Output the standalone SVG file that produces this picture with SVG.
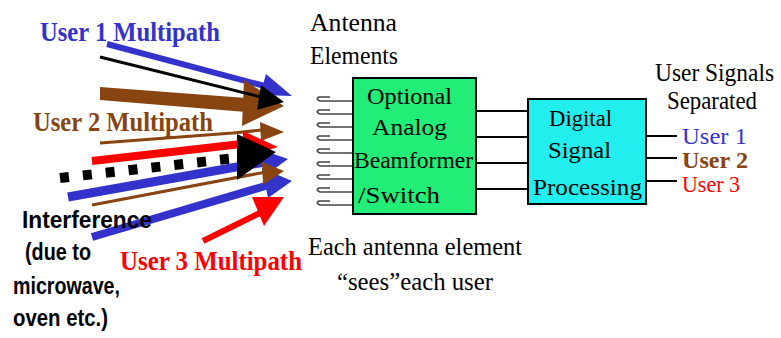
<svg xmlns="http://www.w3.org/2000/svg" width="781" height="338" viewBox="0 0 781 338">
<style>
.serif{font-family:"Liberation Serif","Times New Roman",serif;font-size:25px;fill:#000}
.box{font-size:24px}
.mp{font-family:"Liberation Serif","Times New Roman",serif;font-size:27px;font-weight:bold}
.intf{font-family:"Liberation Sans",Arial,sans-serif;font-size:24px;font-weight:bold;fill:#000}
.blue{fill:#3333CC}
.brown{fill:#884411}
.red{fill:#FF0000}
.wire{stroke:#000;stroke-width:2;fill:none}
.ant{stroke:#444;stroke-width:1.6;fill:none}
</style>
<rect width="781" height="338" fill="#fff"/>

<g id="signals">
  <line x1="107" y1="44" x2="272" y2="88" stroke="#3333CC" stroke-width="6"/>
  <polygon points="266,74 292,96 260,95" fill="#3333CC"/>
  <polygon points="100,87 246,98 246,112 100,100" fill="#884411"/>
  <polygon points="244,80 284,106 242,126" fill="#884411"/>
  <line x1="100" y1="57" x2="265" y2="98" stroke="#000" stroke-width="3"/>
  <polygon points="261,85 284,102 257,110" fill="#000"/>
  <polyline points="100,143 233,133 262,130" fill="none" stroke="#884411" stroke-width="3"/>
  <polygon points="260,122 284,132 261,141" fill="#884411"/>
  <line x1="92" y1="161" x2="250" y2="143" stroke="#FF0000" stroke-width="8"/>
  <polygon points="243,131 278,147 243,158" fill="#FF0000"/>
  <line x1="68" y1="197" x2="270" y2="161" stroke="#3333CC" stroke-width="9"/>
  <polygon points="262,150 288,159 266,175" fill="#3333CC"/>
  <line x1="92" y1="237" x2="272" y2="184" stroke="#3333CC" stroke-width="8"/>
  <polygon points="262,168 292,181 268,198" fill="#3333CC"/>
  <line x1="92" y1="205" x2="266" y2="172" stroke="#884411" stroke-width="3"/>
  <polygon points="262,162 284,171 263,185" fill="#884411"/>
  <line x1="60" y1="178" x2="236" y2="158" stroke="#000" stroke-width="10" stroke-dasharray="9 14"/>
  <polygon points="237,134 276,152 237,180" fill="#000"/>
  <line x1="203" y1="241" x2="262" y2="212" stroke="#FF0000" stroke-width="6"/>
  <polygon points="252,197 284,197 264,226" fill="#FF0000"/>
</g>

<g id="labels-left">
  <text class="mp blue" x="40" y="41" textLength="180" lengthAdjust="spacingAndGlyphs">User 1 Multipath</text>
  <text class="mp brown" x="33" y="131" textLength="180" lengthAdjust="spacingAndGlyphs">User 2 Multipath</text>
  <text class="mp red" x="120" y="270" textLength="182" lengthAdjust="spacingAndGlyphs">User 3 Multipath</text>
  <text class="intf" x="22" y="228" textLength="130" lengthAdjust="spacingAndGlyphs">Interference</text>
  <text class="intf" x="25" y="260" textLength="66" lengthAdjust="spacingAndGlyphs">(due to</text>
  <text class="intf" x="13" y="294" textLength="107" lengthAdjust="spacingAndGlyphs">microwave,</text>
  <text class="intf" x="13" y="326" textLength="95" lengthAdjust="spacingAndGlyphs">oven etc.)</text>
</g>

<g id="antenna-elements">
  <text class="serif" x="310" y="31" textLength="87" lengthAdjust="spacingAndGlyphs">Antenna</text>
  <text class="serif" x="310" y="64" textLength="88" lengthAdjust="spacingAndGlyphs">Elements</text>
  <path class="ant" d="M330,97 H319 q-4,2 1,4 H353"/>
  <path class="ant" d="M330,110 H319 q-4,2 1,4 H353"/>
  <path class="ant" d="M330,123 H319 q-4,2 1,4 H353"/>
  <path class="ant" d="M330,136 H319 q-4,2 1,4 H353"/>
  <path class="ant" d="M330,149 H319 q-4,2 1,4 H353"/>
  <path class="ant" d="M330,162 H319 q-4,2 1,4 H353"/>
  <path class="ant" d="M330,175 H319 q-4,2 1,4 H353"/>
  <path class="ant" d="M330,188 H319 q-4,2 1,4 H353"/>
  <path class="ant" d="M330,201 H319 q-4,2 1,4 H353"/>
</g>

<g id="beamformer">
  <rect x="353" y="78" width="123" height="136" fill="#22EE77" stroke="#000" stroke-width="2"/>
  <text class="serif box" x="367" y="104" textLength="85" lengthAdjust="spacingAndGlyphs">Optional</text>
  <text class="serif box" x="372" y="135" textLength="75" lengthAdjust="spacingAndGlyphs">Analog</text>
  <text class="serif box" x="354" y="168" textLength="119" lengthAdjust="spacingAndGlyphs">Beamformer</text>
  <text class="serif box" x="358" y="203" textLength="82" lengthAdjust="spacingAndGlyphs">/Switch</text>
</g>

<g id="dsp">
  <rect x="528" y="99" width="118" height="105" fill="#22EEEE" stroke="#000" stroke-width="2"/>
  <text class="serif box" x="549" y="126" textLength="63" lengthAdjust="spacingAndGlyphs">Digital</text>
  <text class="serif box" x="548" y="158" textLength="63" lengthAdjust="spacingAndGlyphs">Signal</text>
  <text class="serif box" x="533" y="195" textLength="109" lengthAdjust="spacingAndGlyphs">Processing</text>
</g>

<g id="outputs">
  <text class="serif" x="655" y="81" textLength="119" lengthAdjust="spacingAndGlyphs">User Signals</text>
  <text class="serif" x="667" y="109" textLength="90" lengthAdjust="spacingAndGlyphs">Separated</text>
  <text class="serif box blue" x="682" y="144" textLength="65" lengthAdjust="spacingAndGlyphs">User 1</text>
  <text class="serif box brown" x="682" y="168" font-weight="bold" textLength="66" lengthAdjust="spacingAndGlyphs">User 2</text>
  <text class="serif box red" x="682" y="192" textLength="58" lengthAdjust="spacingAndGlyphs">User 3</text>
</g>

<g id="caption">
  <text class="serif" x="308" y="255" textLength="214" lengthAdjust="spacingAndGlyphs">Each antenna element</text>
  <text class="serif" x="337" y="290" textLength="156" lengthAdjust="spacingAndGlyphs">“sees”each user</text>
</g>

<g id="connectors">
  <line class="wire" x1="476" y1="111" x2="528" y2="111"/>
  <line class="wire" x1="476" y1="137" x2="528" y2="137"/>
  <line class="wire" x1="476" y1="163" x2="528" y2="163"/>
  <line class="wire" x1="476" y1="189" x2="528" y2="189"/>
  <line class="wire" x1="646" y1="136" x2="677" y2="136"/>
  <line class="wire" x1="646" y1="158" x2="677" y2="158"/>
  <line class="wire" x1="646" y1="181" x2="677" y2="181"/>
</g>
</svg>
